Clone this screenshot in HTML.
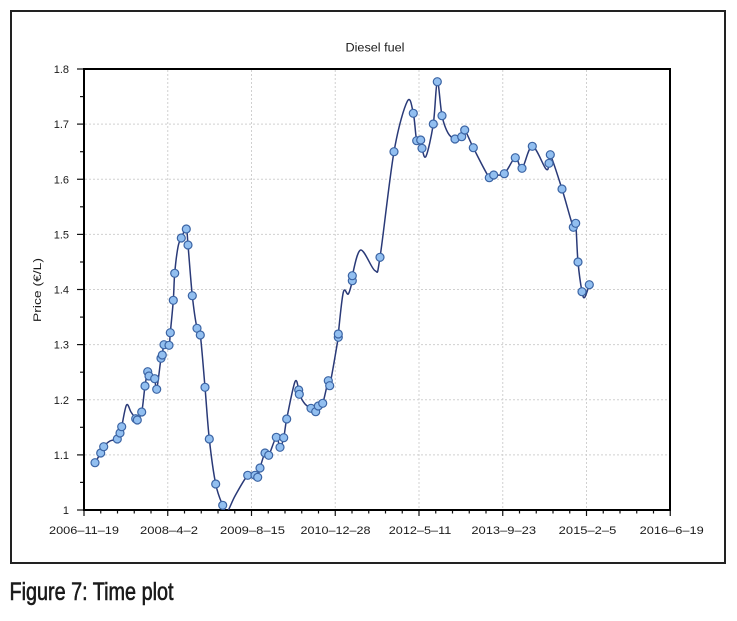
<!DOCTYPE html>
<html><head><meta charset="utf-8"><style>
html,body{margin:0;padding:0;background:#fff;}
svg{display:block;}
text{font-family:"Liberation Sans",sans-serif;fill:#1a1a1a;}
</style></head><body>
<svg width="737" height="621" viewBox="0 0 737 621" xmlns="http://www.w3.org/2000/svg">
<rect x="0" y="0" width="737" height="621" fill="#fff"/>
<rect x="11" y="11" width="714" height="552" fill="none" stroke="#222" stroke-width="2"/>
<text x="375" y="51.5" font-size="11.5" text-anchor="middle" textLength="59" lengthAdjust="spacingAndGlyphs">Diesel fuel</text>
<g stroke="#d0d0d0" stroke-width="1" stroke-dasharray="2,2" fill="none">
<line x1="167.75" y1="70" x2="167.75" y2="509"/>
<line x1="251.5" y1="70" x2="251.5" y2="509"/>
<line x1="335.25" y1="70" x2="335.25" y2="509"/>
<line x1="419" y1="70" x2="419" y2="509"/>
<line x1="502.75" y1="70" x2="502.75" y2="509"/>
<line x1="586.5" y1="70" x2="586.5" y2="509"/>
<line x1="85" y1="454.9" x2="669" y2="454.9"/>
<line x1="85" y1="399.75" x2="669" y2="399.75"/>
<line x1="85" y1="344.6" x2="669" y2="344.6"/>
<line x1="85" y1="289.5" x2="669" y2="289.5"/>
<line x1="85" y1="234.4" x2="669" y2="234.4"/>
<line x1="85" y1="179.25" x2="669" y2="179.25"/>
<line x1="85" y1="124.1" x2="669" y2="124.1"/>
</g>
<g stroke="#111" stroke-width="1.2">
<line x1="77" y1="510" x2="84" y2="510"/><line x1="80" y1="482.4" x2="84" y2="482.4"/>
<line x1="77" y1="454.9" x2="84" y2="454.9"/><line x1="80" y1="427.3" x2="84" y2="427.3"/>
<line x1="77" y1="399.75" x2="84" y2="399.75"/><line x1="80" y1="372.2" x2="84" y2="372.2"/>
<line x1="77" y1="344.6" x2="84" y2="344.6"/><line x1="80" y1="317.1" x2="84" y2="317.1"/>
<line x1="77" y1="289.5" x2="84" y2="289.5"/><line x1="80" y1="262" x2="84" y2="262"/>
<line x1="77" y1="234.4" x2="84" y2="234.4"/><line x1="80" y1="206.8" x2="84" y2="206.8"/>
<line x1="77" y1="179.25" x2="84" y2="179.25"/><line x1="80" y1="151.7" x2="84" y2="151.7"/>
<line x1="77" y1="124.1" x2="84" y2="124.1"/><line x1="80" y1="96.6" x2="84" y2="96.6"/>
<line x1="77" y1="69" x2="84" y2="69"/>
</g>
<g id="xticks" stroke="#111" stroke-width="1.2"></g>
<rect x="84" y="69" width="586" height="441" fill="none" stroke="#000" stroke-width="2"/>
<g font-size="11" text-anchor="end">
<text x="69" y="514">1</text>
<text x="69" y="458.9">1.1</text>
<text x="69" y="403.8">1.2</text>
<text x="69" y="348.6">1.3</text>
<text x="69" y="293.5">1.4</text>
<text x="69" y="238.4">1.5</text>
<text x="69" y="183.3">1.6</text>
<text x="69" y="128.1">1.7</text>
<text x="69" y="73">1.8</text>
</g>
<g font-size="11" text-anchor="middle">
<text x="84" y="534" textLength="70" lengthAdjust="spacingAndGlyphs">2006–11–19</text>
<text x="169" y="534" textLength="58" lengthAdjust="spacingAndGlyphs">2008–4–2</text>
<text x="252.5" y="534" textLength="65" lengthAdjust="spacingAndGlyphs">2009–8–15</text>
<text x="335.5" y="534" textLength="70" lengthAdjust="spacingAndGlyphs">2010–12–28</text>
<text x="420" y="534" textLength="62.5" lengthAdjust="spacingAndGlyphs">2012–5–11</text>
<text x="503.7" y="534" textLength="64.7" lengthAdjust="spacingAndGlyphs">2013–9–23</text>
<text x="587.5" y="534" textLength="57.6" lengthAdjust="spacingAndGlyphs">2015–2–5</text>
<text x="671.7" y="534" textLength="64" lengthAdjust="spacingAndGlyphs">2016–6–19</text>
</g>
<text transform="translate(41,290) rotate(-90)" font-size="11" text-anchor="middle" textLength="64" lengthAdjust="spacingAndGlyphs">Price (€/L)</text>
<text x="9.5" y="600" font-size="25" textLength="164" lengthAdjust="spacingAndGlyphs" fill="#1a1a1a" stroke="#1a1a1a" stroke-width="0.6">Figure 7: Time plot</text>
<defs><clipPath id="pc"><rect x="85" y="70" width="584" height="440"/></clipPath></defs>
<g clip-path="url(#pc)">
<polyline id="curve" fill="none" stroke="#2a3a78" stroke-width="1.5" stroke-linejoin="round" points=""/>
<path id="curvep" fill="none" stroke="#2a3a78" stroke-width="1.5" d=""/>
<g id="markers" fill="#92bff0" stroke="#3b64a4" stroke-width="1.2"></g>
</g>
</svg>
<script>
(function(){
var P=[
[95,462.7,1],[100.7,453,1],[103.7,446.7,1],[110,441,0],[117.3,439,1],[120,433,1],[121.7,426.7,1],
[126.5,405,0],[131,412,0],[135.7,418.7,1],[137.3,420,1],[141.7,412,1],[145,386,1],[147.7,371.7,1],
[149,376,1],[152,378,0],[154.7,378.7,1],[156.7,389.3,1],[161,358.3,1],[162.3,355,1],[164,344.7,1],
[169,345.3,1],[170.3,332.7,1],[173.3,300.3,1],[174.7,273.3,1],[178,247,0],[181.3,238,1],[186.3,229,1],
[188,245,1],[192.3,295.7,1],[197,328.3,1],[200.3,335,1],[205,387.3,1],[209.3,439,1],[215.7,484,1],
[222.7,505.3,1],[227,512,0],[235,496,0],[247.7,475.3,1],[255,475.3,1],[257.7,477.3,1],[260,468,1],
[265,453,1],[268.7,455.3,1],[276.3,437.3,1],[280,447.3,1],[283.7,437.7,1],[286.7,419,1],[295,381.7,0],
[298.7,390,1],[299.3,394.3,1],[305,404,0],[311,408.3,1],[315.7,411.7,1],[318.3,406,1],[322.7,403.3,1],
[328.3,380.7,1],[329.7,385.7,1],[338.3,337.3,1],[338.3,334,1],[343.3,292.3,0],[348.3,294,0],
[352.3,280.7,1],[352.3,275.7,1],[360.7,250,0],[375,270.7,0],[380,257.3,1],[394,151.7,1],[407.3,101.3,0],
[413.3,113.3,1],[416.7,140.7,1],[420.7,140,1],[422,148.3,1],[426,156.3,0],[433.3,124,1],[437.3,81.7,1],
[442,115.7,1],[448,133,0],[455,139,1],[461.7,136.7,1],[464.7,130,1],[473.3,147.7,1],[489.3,177.7,1],
[493.7,175,1],[504.3,173.7,1],[515.3,157.7,1],[522,168.3,1],[532.3,146.3,1],[546,169,0],[549,163.3,1],
[550.3,154.7,1],[562,189,1],[573.3,227.3,1],[575.7,223.3,1],[578,262,1],[582,291.7,1],[584.7,297.3,0],
[589.3,284.7,1]];
var svgns="http://www.w3.org/2000/svg";
var pts=P.map(function(p){return p[0]+","+p[1];}).join(" ");
var pl=document.getElementById("curve");
pl.setAttribute("points",pts);
var d="M"+P[0][0]+","+P[0][1];
for(var i=0;i<P.length-1;i++){
 var p0=P[i>0?i-1:0],p1=P[i],p2=P[i+1],p3=P[i+2<P.length?i+2:i+1];
 var c1x=p1[0]+(p2[0]-p0[0])/6,c1y=p1[1]+(p2[1]-p0[1])/6;
 var c2x=p2[0]-(p3[0]-p1[0])/6,c2y=p2[1]-(p3[1]-p1[1])/6;
 d+=" C"+c1x.toFixed(2)+","+c1y.toFixed(2)+" "+c2x.toFixed(2)+","+c2y.toFixed(2)+" "+p2[0]+","+p2[1];
}
document.getElementById("curvep").setAttribute("d",d);
pl.setAttribute("stroke","none");
var mg=document.getElementById("markers");
P.forEach(function(p){if(!p[2])return;var c=document.createElementNS(svgns,"circle");
c.setAttribute("cx",p[0]);c.setAttribute("cy",p[1]);c.setAttribute("r","4");mg.appendChild(c);});
var xt=document.getElementById("xticks");
for(var k=0;k<=35;k++){var x=84+k*16.75;var l=document.createElementNS(svgns,"line");
l.setAttribute("x1",x);l.setAttribute("x2",x);l.setAttribute("y1",510);l.setAttribute("y2",(k%5==0)?516:513.5);xt.appendChild(l);}
})();
</script>
</body></html>
